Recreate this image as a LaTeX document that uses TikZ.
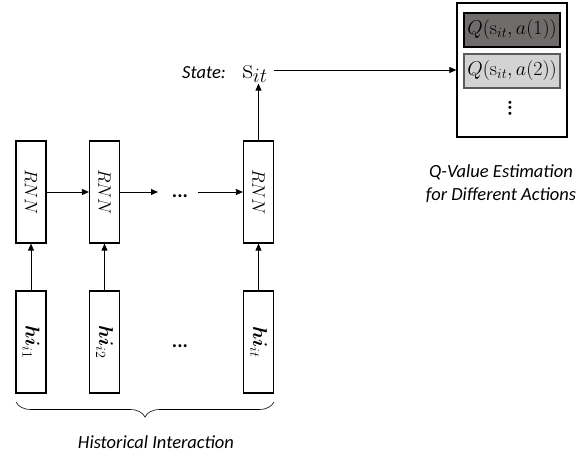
\RequirePackage{fix-cm}
\documentclass[tikz,border=0pt]{standalone}
\usepackage[no-math]{fontspec}
\setmainfont{Carlito}
\usepackage{amsmath,bm}
\usepackage{graphicx}
\usetikzlibrary{arrows.meta,decorations.pathreplacing}
\definecolor{qdark}{HTML}{706C6C}
\definecolor{qlight}{HTML}{D3D3D3}
\definecolor{qedge}{HTML}{5A5A5A}
\begin{document}
\begin{tikzpicture}[x=1pt,y=-1pt,
  cell/.style={draw, line width=1.3pt, minimum width=30pt, minimum height=102pt, inner sep=0pt},
  arr/.style={-{Triangle[length=7pt,width=6pt]}, line width=0.8pt},
  lbl/.style={font=\fontsize{18.5}{23}\selectfont\itshape},
  dotsfont/.style={font=\fontsize{20}{22}\selectfont\bfseries},
  qcell/.style={draw, line width=1.2pt, minimum width=96pt, minimum height=34pt, inner sep=0pt,
    font=\fontsize{20}{22}\selectfont}]
\useasboundingbox (0,0) rectangle (579,457);

% recurrent cells
\node[cell] (r1) at (31,192) {\fontsize{18}{20}\selectfont\rotatebox{-90}{$RNN$}};
\node[cell] (r2) at (104.5,192) {\fontsize{18}{20}\selectfont\rotatebox{-90}{$RNN$}};
\node[cell] (r3) at (258.5,192) {\fontsize{18}{20}\selectfont\rotatebox{-90}{$RNN$}};
\node[dotsfont] (rdots) at (180,196) {...};
\coordinate (r2out) at (158,192);
\coordinate (r3in) at (198,192);

% interaction inputs
\node[cell] (h1) at (31,342) {\fontsize{20}{22}\selectfont\rotatebox{-90}{$\bm{hi}_{i1}$}};
\node[cell] (h2) at (104.5,342) {\fontsize{20}{22}\selectfont\rotatebox{-90}{$\bm{hi}_{i2}$}};
\node[cell] (h3) at (258.5,342) {\fontsize{20}{22}\selectfont\rotatebox{-90}{$\bm{hi}_{it}$}};
\node[dotsfont] (hdots) at (180,346) {...};

% state
\node[inner sep=1pt, font=\fontsize{29}{31}\selectfont] (s) at (255,74) {$\mathrm{s}_{it}$};
\node[lbl, anchor=base east] (st) at ([xshift=-12pt]s.base west) {State:};
\coordinate (sout) at (274,70);

% Q-value block
\node[draw, line width=1.3pt, minimum width=110pt, minimum height=134pt] (q) at (512,70) {};
\node[qcell, fill=qdark] (q1) at (512,30) {$Q(\mathrm{s}_{it},a(1))$};
\node[qcell, fill=qlight, draw=qedge] (q2) at (512,71) {$Q(\mathrm{s}_{it},a(2))$};
\node[dotsfont, rotate=90, inner sep=0pt] (qdots) at (510,108) {...};
\node[lbl, align=center] (qtxt) at (501,184) {Q-Value Estimation\\for Different Actions};

% connectors
\draw[arr] (r1.east) -- (r2.west);
\draw[arr] (r2.east) -- (r2out);
\draw[arr] (r3in) -- (r3.west);
\draw[arr] (h1.north) -- (r1.south);
\draw[arr] (h2.north) -- (r2.south);
\draw[arr] (h3.north) -- (r3.south);
\draw[arr] (r3.north) -- (r3.north |- s.south);
\draw[arr] (sout) -- (q.west);

% brace over the inputs
\coordinate (bl) at (16,402);
\coordinate (br) at (274,402);
\draw[line width=0.6pt, decorate, decoration={brace, mirror, amplitude=15pt}] (bl) -- (br);
\node[lbl] (htxt) at (156,442) {Historical Interaction};
\end{tikzpicture}
\end{document}
